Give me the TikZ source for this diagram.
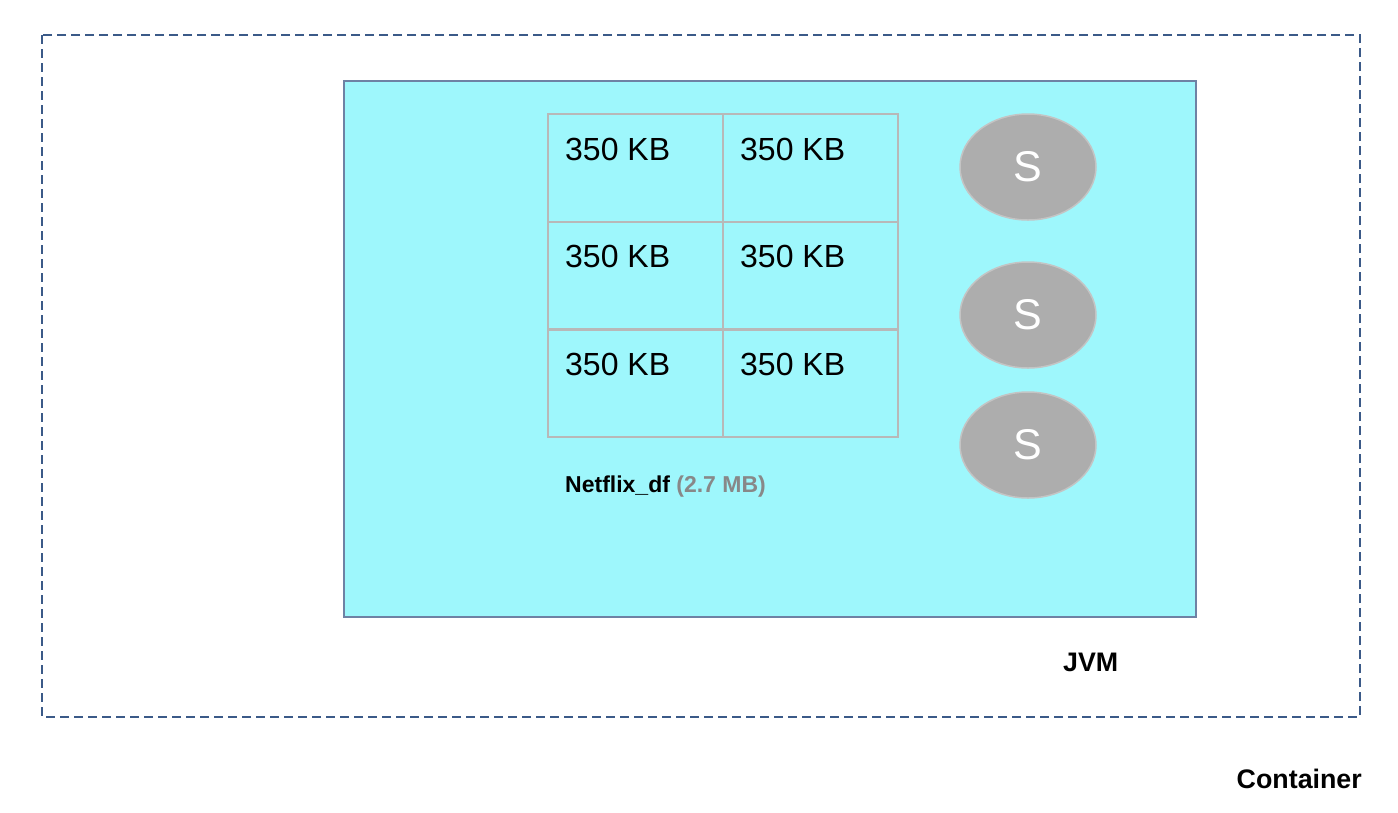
\documentclass[tikz,border=0pt]{standalone}
\usepackage{fontspec}
\setmainfont{Liberation Sans}
\usetikzlibrary{shapes.geometric,calc}
\definecolor{dashblue}{HTML}{3B5A88}
\definecolor{jvmfill}{HTML}{9EF7FC}
\definecolor{jvmline}{HTML}{6E82A4}
\definecolor{gridgray}{HTML}{B8B8B8}
\definecolor{sfill}{HTML}{ADADAD}
\definecolor{sline}{HTML}{C4C4C4}
\definecolor{sizegray}{HTML}{888888}
\tikzset{
  cellbox/.style={draw=gridgray, line width=2pt, minimum width=175pt, minimum height=108pt, inner sep=0pt, anchor=north west},
  celltext/.style={font=\fontsize{32}{36}\selectfont, anchor=west, inner sep=0pt},
  sball/.style={ellipse, fill=sfill, draw=sline, line width=1.5pt, minimum width=136pt, minimum height=106pt, text=white, font=\fontsize{43}{48}\selectfont, inner sep=0pt},
  boldlabel/.style={font=\bfseries\fontsize{26.8}{30}\selectfont, inner sep=0pt}
}
\begin{document}
\begin{tikzpicture}[x=1pt,y=-1pt]
\useasboundingbox (0,0) rectangle (1398,812);
\fill[white] (0,0) rectangle (1398,812);
% container
\draw[dashblue, line width=2pt, dash pattern=on 9pt off 5pt] (42,35) rectangle (1360,717);
\node[boldlabel, anchor=east] (container) at (1362,779) {Container};
% JVM
\node[draw=jvmline, fill=jvmfill, line width=2pt, minimum width=852pt, minimum height=536pt, inner sep=0pt, anchor=north west] (jvm) at (343,80) {};
\node[boldlabel, anchor=west] (jvmlabel) at (1063,662) {JVM};
% grid cells
\foreach \r/\y in {1/113,2/220.5,3/328}{
  \node[cellbox] (c\r a) at (547,\y) {};
  \node[cellbox] (c\r b) at (722,\y) {};
  \node[celltext] (t\r a) at ($(c\r a.north west)+(18,36)$) {350 KB};
  \node[celltext] (t\r b) at ($(c\r b.north west)+(18,36)$) {350 KB};
}
\node[font=\bfseries\fontsize{23}{28}\selectfont, anchor=west, inner sep=0pt] (df) at (565,487) {Netflix\_df \textcolor{sizegray}{(2.7 MB)}};
% S balls
\node[sball] (s1) at (1028,167) {S};
\node[sball] (s2) at (1028,315) {S};
\node[sball] (s3) at (1028,445) {S};
\end{tikzpicture}
\end{document}
